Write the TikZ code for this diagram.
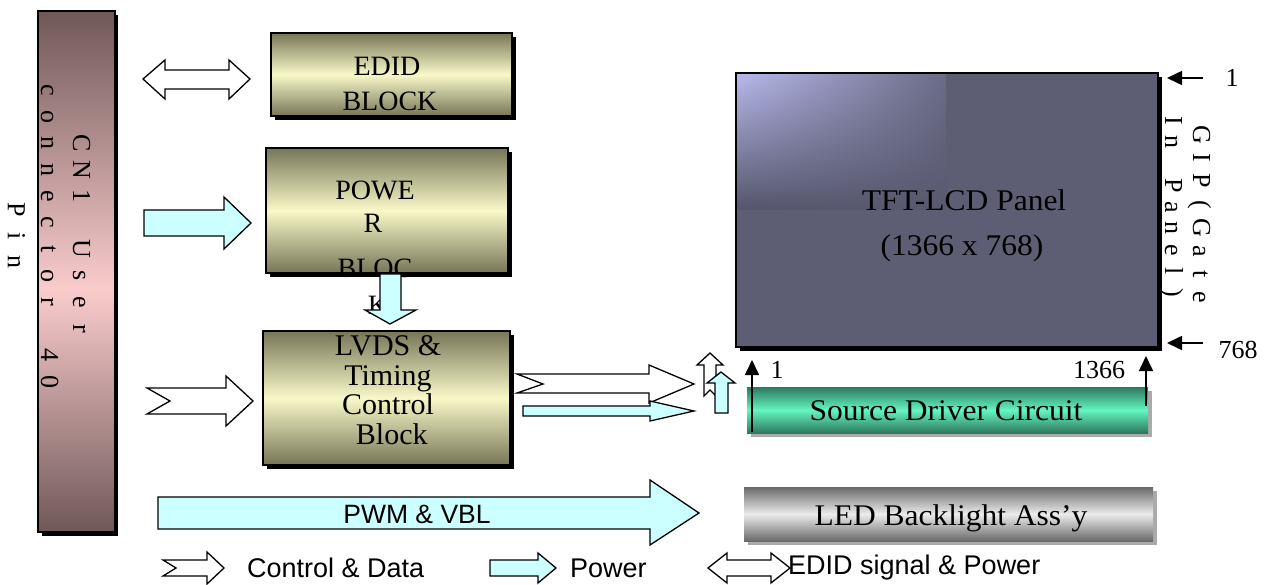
\documentclass[tikz,border=0pt]{standalone}
\usepackage{fontspec}
\setmainfont{Liberation Serif}
\newfontfamily\widefont[FakeStretch=1.05]{Liberation Serif}
\newfontfamily\legfont{Liberation Sans}
\usetikzlibrary{shadings,arrows.meta}
\makeatletter
\newcommand\evenchars[2]{\begingroup\def\ec@w{#1}\ec@loop#2\ec@stop\endgroup}
\def\ec@stop{\ec@stop}
\def\ec@loop#1{\ifx\ec@stop#1\else\makebox[\ec@w][c]{#1}\expandafter\ec@loop\fi}
\makeatother
\definecolor{olivedark}{RGB}{118,118,88}
\definecolor{olivelight}{RGB}{248,248,200}
\definecolor{cyanfill}{RGB}{204,255,255}
\definecolor{mauvedark}{RGB}{112,88,88}
\definecolor{mauvelight}{RGB}{250,204,204}
\definecolor{tealdark}{RGB}{45,120,95}
\definecolor{teallight}{RGB}{100,245,192}
\definecolor{graydark}{RGB}{105,105,105}
\definecolor{graylight}{RGB}{236,236,236}
\definecolor{panelbase}{RGB}{93,94,115}
\definecolor{shadowgray}{RGB}{170,170,170}
\tikzset{
  olivebox/.style={draw=black, line width=1.5pt, top color=olivedark, bottom color=olivedark, middle color=olivelight},
  blackshadow/.style={fill=black},
  grayshadow/.style={fill=shadowgray},
  whitearrow/.style={draw=black, fill=white, line width=1.3pt, line join=miter},
  cyanarrow/.style={draw=black, fill=cyanfill, line width=1.3pt, line join=miter},
  pinarrow/.style={line width=1.6pt, -{Triangle[length=15pt,width=14pt]}},
  serif/.style={inner sep=0pt, font=\fontsize{28}{32}\selectfont},
  bigserif/.style={inner sep=0pt, align=center, font=\fontsize{30}{29.5}\selectfont},
  wideserif/.style={inner sep=0pt, font=\widefont\fontsize{30}{34}\selectfont},
  numlabel/.style={inner sep=0pt, font=\fontsize{26}{30}\selectfont},
  spaced/.style={inner sep=0pt, font=\fontsize{26}{30}\selectfont, rotate=-90, anchor=base},
  legend/.style={inner sep=0pt, font=\legfont\fontsize{27}{31}\selectfont},
}
\begin{document}
\begin{tikzpicture}[x=1pt,y=-1pt]
\useasboundingbox (0,0) rectangle (1272,585);
\fill[white] (0,0) rectangle (1272,585);

% ---------- CN1 connector ----------
\fill[blackshadow] (42,15) rectangle (118,536);
\shade[top color=mauvedark, bottom color=mauvelight] (38,11) rectangle (115,290);
\shade[top color=mauvelight, bottom color=mauvedark] (38,290) rectangle (115,532);
\draw[line width=1.2pt] (38,11) rectangle (115,532);
\node[spaced] (cnA) at (73,236) {\evenchars{26.5pt}{CN1~User}};
\node[spaced] (cnB) at (41,236) {\evenchars{26.5pt}{connector~40}};
\node[spaced] (cnC) at (8,236) {\evenchars{26.5pt}{Pin}};

% ---------- EDID block ----------
\fill[blackshadow] (275,37) rectangle (516,120);
\path[olivebox] (271,33) rectangle (512,116);
\node[serif] (edidA) at (387,66) {EDID};
\node[serif] (edidB) at (390,101) {BLOCK};

% ---------- POWER block ----------
\fill[blackshadow] (270,152) rectangle (512,277);
\path[olivebox] (266,148) rectangle (508,273);
\node[serif] (pwA) at (375,190) {POWE};
\node[serif] (pwB) at (373,223) {R};
\node[serif] (pwC) at (375,268) {BLOC};
\node[serif] (pwD) at (378,305) {K};

% ---------- LVDS block ----------
\fill[blackshadow] (267,335) rectangle (514,469);
\path[olivebox] (263,331) rectangle (510,465);
\node[bigserif] (lvds) at (388,390) {LVDS \&\\Timing\\Control\\~Block};

% ---------- block arrows ----------
% EDID double arrow
\draw[whitearrow] (143,79) -- (165,60) -- (165,70) -- (229,70) -- (229,60) -- (250,79)
  -- (229,99) -- (229,89) -- (165,89) -- (165,99) -- cycle;
% power arrow into POWER block
\draw[cyanarrow] (144,210) -- (224,210) -- (224,197) -- (251,223) -- (224,249) -- (224,236) -- (144,236) -- cycle;
% down arrow POWER -> LVDS
\draw[cyanarrow] (380,274) -- (401,274) -- (401,310) -- (416,310) -- (390,324) -- (365,310) -- (380,310) -- cycle;
% control input to LVDS
\draw[whitearrow] (147,388) -- (226,388) -- (226,376) -- (253,401) -- (226,426) -- (226,414) -- (147,414) -- (170,401) -- cycle;
% control output from LVDS
\draw[whitearrow] (517,374) -- (649,374) -- (649,365) -- (694,384) -- (649,403) -- (649,393) -- (517,393) -- (543,384) -- cycle;
% power output from LVDS
\draw[cyanarrow] (523,406) -- (650,406) -- (650,401) -- (694,411) -- (650,421) -- (650,416) -- (523,416) -- cycle;
% small up arrows
\draw[whitearrow] (704,396) -- (704,365) -- (697,365) -- (710,353) -- (723,365) -- (716,365) -- (716,396) -- (710,390) -- cycle;
\draw[cyanarrow] (715,413) -- (715,383) -- (707,383) -- (721,372) -- (735,383) -- (728,383) -- (728,413) -- cycle;
% PWM & VBL arrow
\draw[cyanarrow] (158,497) -- (650,497) -- (650,480) -- (699,513) -- (650,545) -- (650,529) -- (158,529) -- cycle;
\node[inner sep=0pt, font=\legfont\fontsize{26.5}{30}\selectfont] (pwm) at (417,514) {PWM \& VBL};

% ---------- TFT-LCD panel ----------
\fill[blackshadow] (740,77) rectangle (1162,351);
\fill[panelbase] (736,73) rectangle (1158,347);
\shade[upper left={rgb,255:red,184;green,184;blue,236}, upper right={rgb,255:red,106;green,107;blue,133},
       lower left={rgb,255:red,84;green,85;blue,106}, lower right={rgb,255:red,88;green,89;blue,110}]
  (737,74) rectangle (946,210);
\draw[line width=1.2pt] (736,73) rectangle (1158,347);
\node[wideserif] (tftA) at (964,200) {TFT-LCD Panel};
\node[wideserif] (tftB) at (962,248) {(1366 x 768)};

% gate side markers
\coordinate (gTopS) at (1203,78);
\coordinate (gTopE) at (1167,78);
\coordinate (gBotS) at (1203,343);
\coordinate (gBotE) at (1167,343);
\draw[pinarrow] (gTopS) -- (gTopE);
\draw[pinarrow] (gBotS) -- (gBotE);
\node[numlabel] (gOne) at (1232,78) {1};
\node[numlabel] (gLast) at (1238,350) {768};
\node[spaced] (gipA) at (1193,216) {\evenchars{23.2pt}{GIP(Gate}};
\node[spaced] (gipB) at (1165,207) {\evenchars{21.5pt}{In~Panel)}};

% ---------- Source driver ----------
\fill[grayshadow] (751,391) rectangle (1152,437);
\shade[top color=tealdark, bottom color=tealdark, middle color=teallight] (747,387) rectangle (1148,433);
\node[wideserif] (src) at (946,411) {Source Driver Circuit};
\coordinate (sL) at (752,432);
\coordinate (sLt) at (752,360);
\coordinate (sR) at (1146,406);
\coordinate (sRt) at (1146,356);
\draw[pinarrow] (sL) -- (sLt);
\draw[pinarrow] (sR) -- (sRt);
\node[numlabel] (sOne) at (777,370) {1};
\node[numlabel] (sLast) at (1099,370) {1366};

% ---------- LED backlight ----------
\fill[grayshadow] (748,491) rectangle (1157,545);
\shade[top color=graydark, bottom color=graydark, middle color=graylight] (744,487) rectangle (1153,541);
\node[wideserif] (led) at (951,518) {LED Backlight Ass’y};

% ---------- legend ----------
\draw[whitearrow] (163,560) -- (207,560) -- (207,552) -- (224,568) -- (207,584) -- (207,576) -- (163,576) -- (176,568) -- cycle;
\node[legend, anchor=west] (legA) at (247,568) {Control \& Data};
\draw[cyanarrow] (490,560) -- (538,560) -- (538,553) -- (556,568) -- (538,583) -- (538,576) -- (490,576) -- cycle;
\node[legend, anchor=west] (legB) at (570,568) {Power};
\draw[whitearrow] (708,568) -- (727,553) -- (727,560) -- (771,560) -- (771,553) -- (790,568)
  -- (771,583) -- (771,576) -- (727,576) -- (727,583) -- cycle;
\node[legend, anchor=west] (legC) at (788,568) {EDID signal \& Power};
\end{tikzpicture}
\end{document}
